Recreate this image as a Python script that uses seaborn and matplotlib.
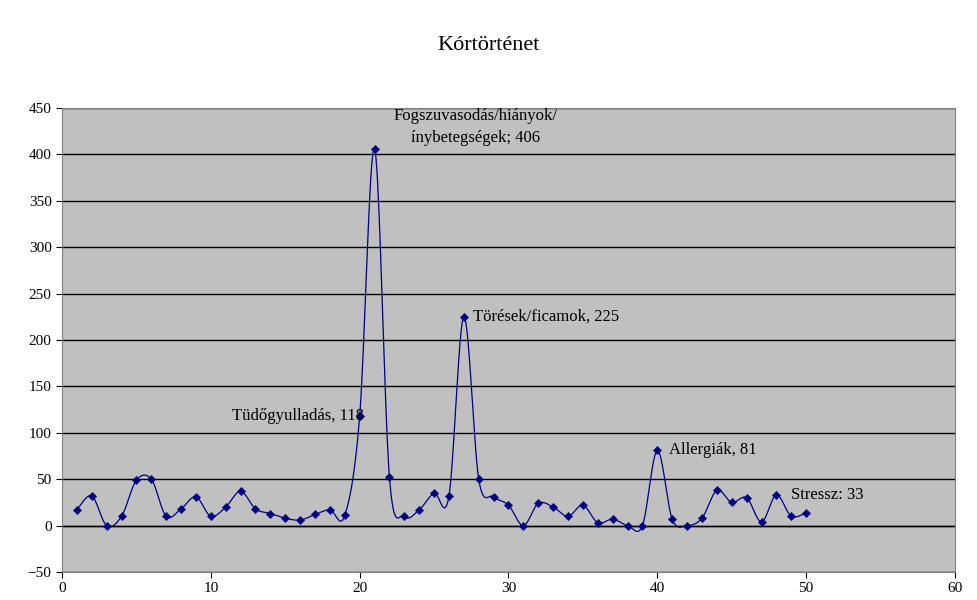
import numpy as np
import pandas as pd
import seaborn as sns
from matplotlib import pyplot as plt

x = list(range(1, 51))
y = [17, 32, 0, 10, 49, 50, 10, 18, 31, 10,
     20, 37, 18, 13, 8, 6, 12, 17, 11, 118,
     406, 52, 10, 17, 35, 32, 225, 50, 31, 22,
     0, 24, 20, 10, 22, 3, 7, 0, 0, 81,
     7, 0, 8, 38, 25, 30, 4, 33, 10, 14]
labels = {20: 'Tüdőgyulladás, 118', 21: 'Fogszuvasodás/hiányok/\nínybetegségek; 406',
          27: 'Törések/ficamok, 225', 40: 'Allergiák, 81', 48: 'Stressz: 33'}

df = pd.DataFrame({'x': x, 'y': y})

# smooth line like Excel (Catmull-Rom through the data points)
def smooth(xs, ys, n=20):
    px = np.concatenate([[xs[0]], xs, [xs[-1]]]).astype(float)
    py = np.concatenate([[ys[0]], ys, [ys[-1]]]).astype(float)
    ox, oy = [], []
    t = np.linspace(0, 1, n, endpoint=False)
    for i in range(1, len(px) - 2):
        for p, o in ((px, ox), (py, oy)):
            p0, p1, p2, p3 = p[i - 1], p[i], p[i + 1], p[i + 2]
            o.extend(0.5 * (2 * p1 + (-p0 + p2) * t + (2 * p0 - 5 * p1 + 4 * p2 - p3) * t ** 2
                            + (-p0 + 3 * p1 - 3 * p2 + p3) * t ** 3))
    ox.append(xs[-1]); oy.append(ys[-1])
    return ox, oy

plt.rcParams['font.family'] = 'Liberation Serif'
fig = plt.figure(figsize=(9.77, 6), dpi=100)
ax = fig.add_axes([62 / 977, 1 - 572 / 600, (955 - 62) / 977, (572 - 108) / 600])
ax.set_facecolor('#C0C0C0')

sx, sy = smooth(np.array(x), np.array(y))
ax.plot(sx, sy, color='#000080', lw=0.9)
sns.scatterplot(data=df, x='x', y='y', marker='D', color='#000080', s=18, edgecolor='#000080', ax=ax, zorder=3)

ax.set_xlim(0, 60)
ax.set_ylim(-50, 450)
ax.set_xticks(range(0, 61, 10))
ax.set_yticks(range(-50, 451, 50))
ax.grid(axis='y', color='black', lw=1)
ax.set_axisbelow(True)
ax.axhline(0, color='black', lw=1)
ax.tick_params(labelsize=11, direction='out', length=4)
for s in ax.spines.values():
    s.set_color('#808080')
ax.set_xlabel('')
ax.set_ylabel('')

ax.text(11.4, 118, labels[20], fontsize=12, va='center', ha='left')
ax.text(27.8, 429, labels[21], fontsize=12, va='center', ha='center', linespacing=1.5)
ax.text(27.6, 225, labels[27], fontsize=12, va='center', ha='left')
ax.text(40.8, 81, labels[40], fontsize=12, va='center', ha='left')
ax.text(49.0, 33, labels[48], fontsize=12, va='center', ha='left')

fig.text(0.5, 1 - 45 / 600, 'Kórtörténet', ha='center', va='center', fontsize=16)
fig.savefig('out.png', dpi=100)
